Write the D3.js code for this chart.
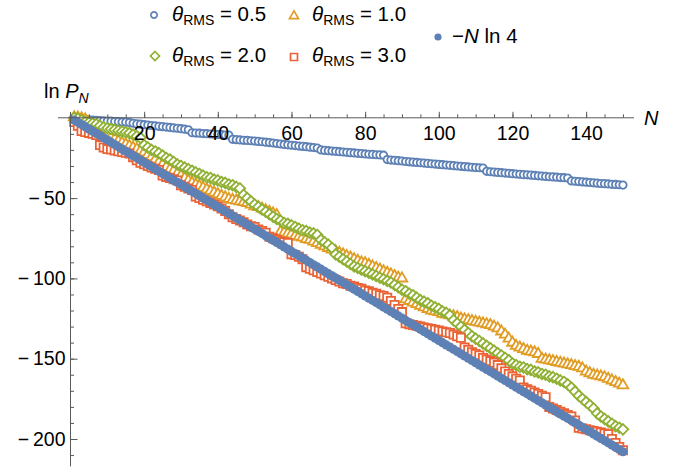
<!DOCTYPE html>
<html>
<head>
<meta charset="utf-8">
<script src="https://cdn.jsdelivr.net/npm/d3@7"></script>
<style>
	body { margin: 0; background: #fff; }
	svg { display: block; font-family: 'Liberation Sans', Arial, sans-serif; }
	.axis path.domain { display: none; }
	.axis line { stroke: #5a5a5a; stroke-width: 1; }
	.axis text { fill: #000; font-size: 19.5px; font-family: 'Liberation Sans', Arial, sans-serif; }
</style>
</head>
<body>
<script>
// data
var N = d3.range(1, 151);

var theta05 = [0, -0.4, -0.9, -1.1, -1.3, -1.4, -1.6, -1.7, -1.9, -2.0,
	-2.1, -2.3, -2.4, -2.6, -2.7, -2.9, -3.4, -3.8, -4.0, -4.3,
	-4.5, -4.8, -5.0, -5.3, -5.5, -5.8, -6.0, -6.3, -6.5, -6.8,
	-7.1, -7.5, -9.3, -9.5, -9.6, -9.8, -9.9, -10.1, -10.2, -10.4,
	-10.5, -10.7, -10.8, -13.4, -13.6, -13.8, -14.0, -14.1, -14.3, -14.5,
	-14.7, -14.9, -15.2, -15.4, -15.7, -16.0, -16.3, -16.6, -16.8, -17.1,
	-17.3, -17.6, -17.8, -18.0, -18.3, -18.5, -18.8, -20.0, -20.3, -20.5,
	-20.7, -20.9, -21.1, -21.3, -21.5, -21.7, -21.9, -22.1, -22.3, -22.5,
	-22.7, -22.8, -23.0, -23.1, -23.3, -26.0, -26.3, -26.5, -26.7, -26.9,
	-27.2, -27.4, -27.6, -27.8, -28.0, -28.2, -28.4, -28.6, -28.8, -29.0,
	-29.2, -29.4, -29.6, -29.8, -30.0, -30.2, -30.4, -30.6, -30.8, -31.0,
	-31.1, -31.3, -33.3, -33.6, -33.8, -34.0, -34.2, -34.4, -34.6, -34.8,
	-35.0, -35.2, -35.4, -35.5, -35.7, -35.9, -36.1, -36.3, -36.5, -36.7,
	-36.8, -37.0, -37.2, -37.3, -37.5, -39.3, -39.5, -39.7, -39.9, -40.1,
	-40.3, -40.5, -40.7, -40.9, -41.0, -41.2, -41.4, -41.5, -41.7, -41.9];

var theta10 = [0.3, 0.2, -0.3, -1.0, -3.0, -4.5, -6.0, -7.5, -9.0, -10.5,
	-12.0, -13.0, -14.5, -15.5, -16.5, -17.5, -18.5, -19.5, -20.5, -21.5,
	-23.0, -24.5, -26.0, -27.5, -29.0, -30.5, -32.0, -33.0, -34.5, -36.0,
	-37.5, -39.0, -40.5, -41.5, -42.5, -43.5, -44.5, -45.5, -46.5, -47.5,
	-48.5, -49.5, -50.5, -51.0, -51.5, -52.0, -52.5, -53.0, -54.0, -55.0,
	-55.5, -56.5, -57.5, -58.5, -59.5, -60.5, -71.0, -71.5, -72.0, -72.5,
	-73.5, -74.0, -74.5, -75.5, -76.0, -77.0, -78.0, -79.0, -80.0, -81.0,
	-82.0, -83.0, -84.0, -85.0, -86.0, -87.0, -88.0, -89.0, -90.0, -90.5,
	-91.5, -92.5, -93.5, -94.5, -95.5, -96.5, -97.5, -98.5, -99.5, -100.0,
	-113.0, -114.0, -115.0, -116.0, -117.0, -118.0, -119.0, -120.0, -120.5, -121.0,
	-122.0, -122.5, -123.0, -123.5, -124.0, -125.0, -125.5, -126.0, -126.5, -127.0,
	-127.5, -128.0, -128.5, -129.0, -130.0, -131.0, -133.0, -135.0, -137.5, -140.0,
	-142.0, -143.0, -144.0, -145.0, -145.5, -146.0, -147.0, -150.0, -150.5, -151.0,
	-151.5, -152.0, -152.5, -153.0, -153.5, -154.0, -154.5, -155.0, -156.0, -158.0,
	-159.0, -160.0, -160.5, -161.0, -161.5, -162.5, -163.5, -164.5, -165.5, -166.5];

var theta20 = [0, -0.5, -1.5, -2.5, -3.0, -3.5, -4.0, -5.0, -6.0, -6.5,
	-7.0, -7.5, -8.0, -8.5, -9.0, -9.5, -10.5, -11.5, -12.5, -17.0,
	-18.5, -20.0, -21.0, -22.0, -23.5, -25.0, -26.0, -27.5, -29.0, -30.0,
	-31.0, -32.0, -33.0, -34.0, -35.0, -36.0, -37.0, -37.5, -38.5, -39.0,
	-40.0, -40.5, -41.5, -42.0, -43.0, -44.0, -48.0, -50.0, -52.0, -54.0,
	-55.5, -57.0, -58.5, -60.0, -61.5, -63.0, -64.0, -65.5, -66.0, -67.0,
	-68.0, -69.0, -70.0, -70.5, -71.5, -72.0, -73.0, -76.0, -77.5, -79.0,
	-81.0, -85.0, -86.5, -88.0, -89.5, -91.0, -92.5, -93.5, -94.5, -95.5,
	-96.5, -97.5, -98.5, -99.5, -100.5, -101.5, -102.5, -104.0, -105.5, -107.0,
	-108.0, -109.5, -110.5, -112.0, -113.5, -114.5, -115.5, -117.0, -118.0, -119.0,
	-120.5, -121.5, -123.0, -126.0, -128.0, -130.0, -132.0, -134.0, -136.0, -137.5,
	-139.0, -140.5, -142.0, -143.5, -145.0, -146.5, -148.0, -149.5, -151.0, -153.0,
	-154.0, -155.0, -155.5, -156.5, -157.0, -158.0, -158.5, -159.5, -160.0, -161.0,
	-161.5, -162.5, -163.5, -164.5, -166.0, -168.0, -170.5, -173.0, -175.0, -177.0,
	-179.0, -181.0, -184.0, -186.0, -187.5, -189.0, -190.5, -192.0, -193.0, -194.0];

var theta30 = [-2.6, -5.0, -8.2, -8.8, -9.4, -10.0, -10.7, -17.0, -18.5, -19.5,
	-19.8, -20.3, -20.8, -21.3, -21.8, -22.3, -24.5, -26.5, -28.0, -29.0,
	-30.0, -31.0, -31.8, -32.5, -36.0, -36.8, -37.5, -38.2, -39.0, -42.0,
	-43.0, -44.0, -45.0, -49.0, -50.0, -51.0, -52.0, -53.0, -54.0, -55.0,
	-56.5, -58.0, -60.0, -62.0, -63.0, -64.0, -65.0, -66.5, -67.5, -68.0,
	-69.5, -70.5, -71.5, -74.0, -75.0, -76.0, -77.0, -77.5, -78.0, -85.0,
	-85.5, -86.5, -88.0, -93.0, -94.0, -95.0, -96.0, -97.0, -98.0, -99.0,
	-100.0, -101.0, -102.0, -103.0, -103.5, -104.5, -105.0, -106.0, -106.5, -107.5,
	-108.0, -109.0, -109.5, -110.5, -111.0, -112.0, -114.0, -116.5, -119.0, -121.0,
	-128.0, -128.5, -129.0, -129.5, -130.0, -130.5, -131.0, -131.5, -132.0, -132.5,
	-133.0, -133.5, -134.0, -135.0, -136.0, -137.0, -143.0, -144.5, -146.0, -147.0,
	-148.0, -149.5, -150.5, -151.5, -152.5, -154.0, -156.0, -158.0, -159.5, -161.0,
	-162.5, -163.5, -168.0, -169.0, -170.0, -171.0, -172.0, -173.0, -174.0, -180.0,
	-181.0, -182.0, -183.0, -184.0, -185.0, -186.0, -188.5, -193.0, -193.5, -194.0,
	-194.5, -195.0, -195.5, -196.0, -196.5, -197.0, -200.0, -202.5, -205.0, -207.0];

// -N ln 4
var minusNln4 = [-1.39, -2.77, -4.16, -5.55, -6.93, -8.32, -9.70, -11.09, -12.48, -13.86,
	-15.25, -16.64, -18.02, -19.41, -20.79, -22.18, -23.57, -24.95, -26.34, -27.73,
	-29.11, -30.50, -31.88, -33.27, -34.66, -36.04, -37.43, -38.82, -40.20, -41.59,
	-42.98, -44.36, -45.75, -47.13, -48.52, -49.91, -51.29, -52.68, -54.07, -55.45,
	-56.84, -58.22, -59.61, -61.00, -62.38, -63.77, -65.16, -66.54, -67.93, -69.31,
	-70.70, -72.09, -73.47, -74.86, -76.25, -77.63, -79.02, -80.41, -81.79, -83.18,
	-84.56, -85.95, -87.34, -88.72, -90.11, -91.50, -92.88, -94.27, -95.65, -97.04,
	-98.43, -99.81, -101.20, -102.59, -103.97, -105.36, -106.74, -108.13, -109.52, -110.90,
	-112.29, -113.68, -115.06, -116.45, -117.84, -119.22, -120.61, -121.99, -123.38, -124.77,
	-126.15, -127.54, -128.93, -130.31, -131.70, -133.08, -134.47, -135.86, -137.24, -138.63,
	-140.02, -141.40, -142.79, -144.17, -145.56, -146.95, -148.33, -149.72, -151.11, -152.49,
	-153.88, -155.27, -156.65, -158.04, -159.42, -160.81, -162.20, -163.58, -164.97, -166.36,
	-167.74, -169.13, -170.51, -171.90, -173.29, -174.67, -176.06, -177.45, -178.83, -180.22,
	-181.60, -182.99, -184.38, -185.76, -187.15, -188.54, -189.92, -191.31, -192.70, -194.08,
	-195.47, -196.85, -198.24, -199.63, -201.01, -202.40, -203.79, -205.17, -206.56, -207.94];

var xTicks = [20, 40, 60, 80, 100, 120, 140];
var yTicks = [-50, -100, -150, -200];

var series = [
	{ theta: '0.5', values: theta05, shape: 'circle', color: '#5E81B5' },
	{ theta: '1.0', values: theta10, shape: 'triangle', color: '#E19C24' },
	{ theta: '2.0', values: theta20, shape: 'diamond', color: '#8FB032' },
	{ theta: '3.0', values: theta30, shape: 'square', color: '#EB6235' },
];

// chart
var width = 695, height = 468;

var svg = d3.select('body')
	.append('svg')
	.attr('width', width)
	.attr('height', height);

svg.append('rect')
	.attr('width', width)
	.attr('height', height)
	.attr('fill', '#fff');

var x = d3.scaleLinear().domain([0, 153]).range([70.5, 634]);
var y = d3.scaleLinear().domain([0, -217]).range([117.8, 466.3]);

// marker paths centred on 0,0
function markerPath (shape) {
	if (shape === 'triangle') {
		return 'M0,-6L5.3,3.1L-5.3,3.1Z';
	}
	if (shape === 'diamond') {
		return 'M0,-5.3L5.3,0L0,5.3L-5.3,0Z';
	}
	if (shape === 'square') {
		return 'M-4.1,-4.1H4.1V4.1H-4.1Z';
	}
	return 'M3.7,0A3.7,3.7,0,1,1,-3.7,0A3.7,3.7,0,1,1,3.7,0Z';
}

// points
series.forEach(function (s) {
	svg.append('g')
		.selectAll('path')
		.data(s.values)
		.enter()
		.append('path')
		.attr('d', markerPath(s.shape))
		.attr('transform', function (d, i) { return 'translate(' + x(N[i]) + ',' + y(d) + ')'; })
		.attr('fill', '#fff')
		.attr('stroke', s.color)
		.attr('stroke-width', 1.8);
});

svg.append('g')
	.selectAll('circle')
	.data(minusNln4)
	.enter()
	.append('circle')
	.attr('cx', function (d, i) { return x(N[i]); })
	.attr('cy', function (d) { return y(d); })
	.attr('r', 4.6)
	.attr('fill', '#5E81B5');

// axes (drawn over the points, labels stay readable)
var xMinor = d3.axisBottom(x)
	.tickValues(d3.range(0, 151, 5))
	.tickSizeInner(-3.5)
	.tickSizeOuter(0)
	.tickFormat('');
var xMajor = d3.axisBottom(x)
	.tickValues(xTicks)
	.tickSizeInner(-6)
	.tickSizeOuter(0)
	.tickPadding(8);

var fmt = function (d) { return d < 0 ? '\u2212\u2009' + Math.abs(d) : d; };
var yMinor = d3.axisLeft(y)
	.tickValues(d3.range(-10, -211, -10))
	.tickSizeInner(-3.5)
	.tickSizeOuter(0)
	.tickFormat('');
var yMajor = d3.axisLeft(y)
	.tickValues(yTicks)
	.tickSizeInner(-7)
	.tickSizeOuter(0)
	.tickPadding(5)
	.tickFormat(fmt);

svg.append('line')
	.attr('x1', 58).attr('x2', x(153))
	.attr('y1', y(0)).attr('y2', y(0))
	.attr('stroke', '#5a5a5a');
svg.append('line')
	.attr('x1', x(0)).attr('x2', x(0))
	.attr('y1', 112).attr('y2', y(-217))
	.attr('stroke', '#5a5a5a');

svg.append('g').attr('class', 'axis')
	.attr('transform', 'translate(0,' + y(0) + ')').call(xMinor);
svg.append('g').attr('class', 'axis')
	.attr('transform', 'translate(0,' + y(0) + ')').call(xMajor);
svg.append('g').attr('class', 'axis')
	.attr('transform', 'translate(' + x(0) + ',0)').call(yMinor);
svg.append('g').attr('class', 'axis')
	.attr('transform', 'translate(' + x(0) + ',0)').call(yMajor);

// axis labels
var ylab = svg.append('text')
	.attr('x', 44).attr('y', 98)
	.attr('font-size', '20px');
ylab.append('tspan').text('ln ');
ylab.append('tspan').attr('font-style', 'italic').text('P');
ylab.append('tspan').attr('font-style', 'italic').attr('font-size', '14px').attr('dy', 5).text('N');

svg.append('text')
	.attr('x', 644).attr('y', 125)
	.attr('font-size', '20px')
	.attr('font-style', 'italic')
	.text('N');

// legend
var legendPos = [
	{ mx: 154, my: 15, tx: 172, ty: 21 },
	{ mx: 294, my: 16, tx: 312, ty: 21 },
	{ mx: 155, my: 56, tx: 172, ty: 62 },
	{ mx: 294, my: 57, tx: 312, ty: 62 },
];
series.forEach(function (s, i) {
	var p = legendPos[i];
	svg.append('path')
		.attr('d', markerPath(s.shape))
		.attr('transform', 'translate(' + p.mx + ',' + p.my + ') scale(0.85)')
		.attr('fill', '#fff')
		.attr('stroke', s.color)
		.attr('stroke-width', 2);
	var t = svg.append('text')
		.attr('x', p.tx).attr('y', p.ty)
		.attr('font-size', '20.5px');
	t.append('tspan').attr('font-style', 'italic').text('\u03b8');
	t.append('tspan').attr('font-size', '14px').attr('dy', 4).text('RMS');
	t.append('tspan').attr('dy', -4).text(' = ' + s.theta);
});

svg.append('circle')
	.attr('cx', 438).attr('cy', 37)
	.attr('r', 3.6)
	.attr('fill', '#5E81B5');
var t5 = svg.append('text')
	.attr('x', 452).attr('y', 43)
	.attr('font-size', '20.5px');
t5.append('tspan').text('\u2212');
t5.append('tspan').attr('font-style', 'italic').text('N');
t5.append('tspan').text(' ln 4');
</script>
</body>
</html>
